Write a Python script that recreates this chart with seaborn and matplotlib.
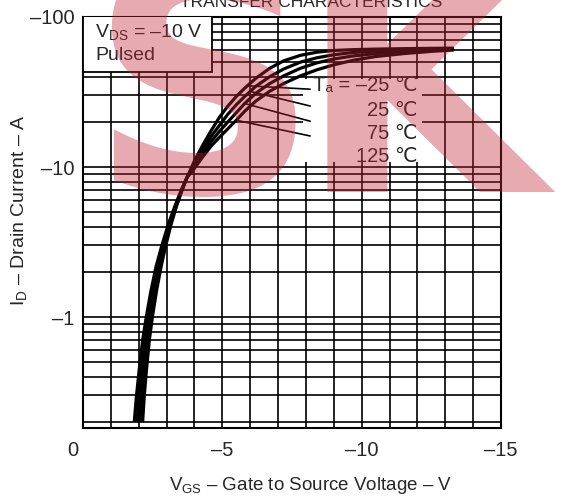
import numpy as np
import pandas as pd
import matplotlib
matplotlib.use("Agg")
import matplotlib.pyplot as plt
import seaborn as sns
from matplotlib.patches import Rectangle
from matplotlib.transforms import ScaledTranslation
from matplotlib.ticker import FixedLocator, FixedFormatter, MultipleLocator, LogLocator, NullFormatter

# ---- data (magnitudes; P-channel so axes are labelled negative) ----
temps = ["-25", "25", "75", "125"]
vgs_m25 = [2.14, 2.20, 2.28, 2.38, 2.49, 2.64, 2.81, 2.97, 3.17, 3.36, 3.555, 3.73,
           4.0, 4.3, 4.6, 4.9, 5.2, 5.5, 5.8, 6.2, 6.7, 7.2, 7.8, 8.4, 9.0, 9.7, 10.5, 11.5, 12.5, 13.3]
id_m25 = [0.2, 0.3, 0.45, 0.7, 1.0, 1.5, 2.2, 3.0, 4.2, 5.5, 7.0, 8.5,
          11, 14, 17.5, 21.5, 25.5, 29.5, 33.5, 39, 45.5, 51, 55.5, 58.3, 59.8, 60.6, 61.1, 61.5, 61.8, 62]
vgs_25 = [2.04, 2.11, 2.19, 2.30, 2.42, 2.57, 2.75, 2.92, 3.14, 3.34, 3.545, 3.73,
          4.0, 4.3, 4.6, 4.9, 5.2, 5.5, 5.8, 6.2, 6.7, 7.2, 7.8, 8.4, 9.0, 9.7, 10.5, 11.5, 12.5, 13.3]
id_25 = [0.2, 0.3, 0.45, 0.7, 1.0, 1.5, 2.2, 3.0, 4.2, 5.5, 7.0, 8.5,
         10.5, 13.2, 16, 19, 22.5, 26, 29.5, 34.5, 40, 45, 50, 53.5, 56, 58, 59.3, 60.3, 61, 61.4]
vgs_75 = [1.94, 2.01, 2.11, 2.22, 2.34, 2.51, 2.69, 2.88, 3.10, 3.32, 3.535, 3.73,
          4.0, 4.3, 4.6, 4.9, 5.2, 5.5, 5.8, 6.2, 6.7, 7.2, 7.8, 8.4, 9.0, 9.7, 10.5, 11.5, 12.5, 13.3]
id_75 = [0.2, 0.3, 0.45, 0.7, 1.0, 1.5, 2.2, 3.0, 4.2, 5.5, 7.0, 8.5,
         10.1, 12.4, 14.8, 17.3, 20, 23, 26.5, 31, 36, 40.5, 45.5, 49.5, 52.5, 55, 57, 58.8, 60, 60.8]
vgs_125 = [1.84, 1.92, 2.02, 2.14, 2.27, 2.44, 2.63, 2.83, 3.07, 3.30, 3.525, 3.73,
           4.0, 4.3, 4.6, 4.9, 5.2, 5.5, 5.8, 6.2, 6.7, 7.2, 7.8, 8.4, 9.0, 9.7, 10.5, 11.5, 12.5, 13.3]
id_125 = [0.2, 0.3, 0.45, 0.7, 1.0, 1.5, 2.2, 3.0, 4.2, 5.5, 7.0, 8.5,
          9.8, 11.7, 13.8, 15.8, 18, 20.5, 23.5, 27.5, 32, 36, 40.5, 44.5, 48, 51.5, 54.5, 57, 59, 60.3]

temp_labels = ["Tₐ = –25 ℃", "25 ℃", "75 ℃", "125 ℃"]
x_ticks = [0, 5, 10, 15]
x_tick_labels = ["0", "–5", "–10", "–15"]
y_ticks = [1, 10, 100]
y_tick_labels = ["–1", "–10", "–100"]

curves = {"-25": (vgs_m25, id_m25), "25": (vgs_25, id_25),
          "75": (vgs_75, id_75), "125": (vgs_125, id_125)}
rows = []
for t in temps:
    v, i = curves[t]
    for a, b in zip(v, i):
        rows.append({"V": a, "I": b, "Ta": t})
df = pd.DataFrame(rows)

sns.set_style("white")
plt.rcParams["font.family"] = ["Liberation Sans", "DejaVu Sans"]
plt.rcParams["mathtext.fontset"] = "custom"
plt.rcParams["mathtext.rm"] = "Liberation Sans"
plt.rcParams["mathtext.it"] = "Liberation Sans"

fig = plt.figure(figsize=(5.65, 5.0), dpi=100)
ax = fig.add_axes([83/565, 1-428/500, 418/565, 411/500])

ax.set_yscale("log")
ax.set_xlim(0, 15)
ax.set_ylim(0.182, 100)

sns.lineplot(data=df, x="V", y="I", hue="Ta", hue_order=temps,
             palette=["black"]*4, sort=False, estimator=None,
             linewidth=2.3, legend=False, ax=ax, zorder=4)
for l in ax.get_lines():
    l.set_solid_capstyle("butt")

# grid
ax.xaxis.set_major_locator(FixedLocator(x_ticks))
ax.xaxis.set_major_formatter(FixedFormatter(x_tick_labels))
ax.xaxis.set_minor_locator(MultipleLocator(1))
ax.yaxis.set_major_locator(FixedLocator(y_ticks))
ax.yaxis.set_major_formatter(FixedFormatter(y_tick_labels))
ax.yaxis.set_minor_locator(LogLocator(base=10, subs=np.arange(2, 10)))
ax.yaxis.set_minor_formatter(NullFormatter())
ax.grid(which="both", color="black", linewidth=1.2)
ax.set_axisbelow(True)
for s in ax.spines.values():
    s.set_color("black")
    s.set_linewidth(1.5)
ax.tick_params(which="both", length=0)
ax.tick_params(axis="x", pad=9, labelsize=14.5)
ax.tick_params(axis="y", pad=6, labelsize=14.5)

ax.set_xlabel("V$_\\mathregular{GS}$ – Gate to Source Voltage – V", fontsize=13.5)
ax.set_ylabel("I$_\\mathregular{D}$ – Drain Current – A", fontsize=14)
ax.xaxis.set_label_coords(0.545, -0.114)
ax.yaxis.set_label_coords(-0.13, 0.53)

# shift the "0" label slightly left as in the reference
tk0 = ax.xaxis.get_major_ticks()[0]
tk0.label1.set_transform(tk0.label1.get_transform() +
                         ScaledTranslation(-0.1, 0, fig.dpi_scale_trans))

# condition box
ax.add_patch(Rectangle((0, 1-55/411), 129/418, 0.2, transform=ax.transAxes,
                       facecolor="white", edgecolor="black", linewidth=1.3,
                       zorder=3, clip_on=True))
ax.text(0.029, 1-(32-17)/411, "V$_\\mathregular{DS}$ = –10 V", transform=ax.transAxes,
        ha="left", va="center", fontsize=14, zorder=5)
ax.text(0.029, 1-(56-17)/411, "Pulsed", transform=ax.transAxes,
        ha="left", va="center", fontsize=14, zorder=5)

# temperature labels
ax.add_patch(Rectangle((7.9, 10.8), 4.25, 27.7, facecolor="white",
                       edgecolor="none", zorder=3))
label_y = [34.7, 23.9, 16.8, 11.8]
for txt, yy in zip(temp_labels, label_y):
    ax.text(12.02, yy, txt, ha="right", va="center", fontsize=14.5, zorder=5)

leader_left_v = [5.9, 6.0, 5.8, 5.5]
leader_right_i = [33.0, 25.5, 20.2, 16.1]
for t, lv, ri in zip(temps, leader_left_v, leader_right_i):
    v, i = curves[t]
    li = float(np.exp(np.interp(lv, v, np.log(i))))
    ax.annotate("", xy=(lv, li), xytext=(8.15, ri),
                arrowprops=dict(arrowstyle="-", color="black", lw=1.2,
                                shrinkA=0, shrinkB=0), zorder=5)

# cropped title
fig.text(0.55, 1-7/500, "TRANSFER CHARACTERISTICS", ha="center", va="baseline",
         fontsize=12.5)

# watermark
for ch, xl in [("S", 88), ("K", 298)]:
    fig.text(xl/565, 1-192/500, ch, ha="left", va="baseline", fontsize=230,
             fontweight="bold", color="#c02634", alpha=0.39, zorder=10,
             family="DejaVu Sans")

fig.savefig("out.png", dpi=100)
